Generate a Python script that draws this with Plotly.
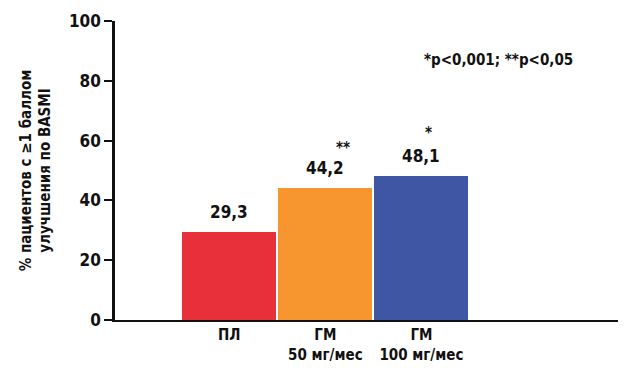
import plotly.graph_objects as go

categories = ["ПЛ", "ГМ<br>50 мг/мес", "ГМ<br>100 мг/мес"]
values = [29.3, 44.2, 48.1]
value_labels = ["29,3", "44,2", "48,1"]
stars = ["", "**", "*"]
colors = ["#E8303A", "#F7962F", "#3F56A4"]
y_ticks = [0, 20, 40, 60, 80, 100]

FONT = "DejaVu Sans Condensed, Liberation Sans Narrow, Arial Narrow, sans-serif"
x = list(range(len(categories)))

fig = go.Figure()
fig.add_trace(go.Bar(x=x, y=values, marker=dict(color=colors, line=dict(width=0)),
                     width=0.98, showlegend=False, hoverinfo="skip"))

for xi, v, lab, st in zip(x, values, value_labels, stars):
    fig.add_annotation(x=xi, y=v, text="<b>%s</b>" % lab, showarrow=False,
                       yshift=20, font=dict(family=FONT, size=17, color="#111"))
    if st:
        fig.add_annotation(x=xi, y=v, text="<b>%s</b>" % st, showarrow=False,
                           xshift=18 if len(st) == 2 else 7, yshift=40 + (3 if len(st) == 1 else 0),
                           font=dict(family=FONT, size=15, color="#111"))

fig.add_annotation(xref="paper", yref="paper", x=0.75, y=0.87, xanchor="center", yanchor="middle",
                   text="<b>*p<0,001; **p<0,05</b>", showarrow=False,
                   font=dict(family=FONT, size=15, color="#111"))

fig.update_layout(
    width=618, height=367,
    margin=dict(l=107, r=0, t=13, b=55),
    paper_bgcolor="white", plot_bgcolor="white",
    bargap=0,
    xaxis=dict(range=[-1.19, 4.13], tickvals=x, ticktext=["<b>%s</b>" % c for c in categories],
               showgrid=False, zeroline=False, showline=True, linecolor="#111", linewidth=2,
               ticks="", automargin=False, tickfont=dict(family=FONT, size=15, color="#111")),
    yaxis=dict(range=[0, 100], tickvals=y_ticks, ticktext=["<b>%d</b>" % t for t in y_ticks],
               showgrid=False, zeroline=False, showline=True, linecolor="#111", linewidth=2.5,
               ticks="outside", ticklen=8, tickwidth=2, tickcolor="#111", automargin=False,
               tickfont=dict(family=FONT, size=17, color="#111"),
               title=dict(text="<b>% пациентов с ≥1 баллом<br>улучшения по BASMI</b>",
                          font=dict(family=FONT, size=15, color="#111"), standoff=15)),
)

fig.write_html("out.html")
